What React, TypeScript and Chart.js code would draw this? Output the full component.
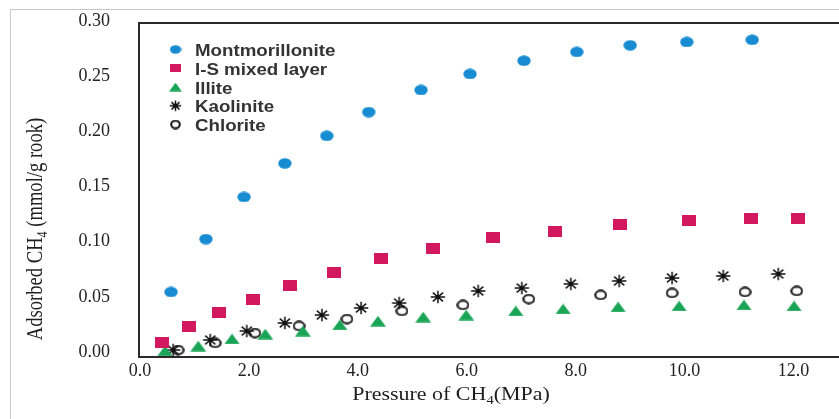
import React, { useEffect, useRef } from "react";
import { Chart, registerables } from "chart.js";

Chart.register(...registerables);

// ---- Data ----
const seriesNames = ["Montmorillonite", "I-S mixed layer", "Illite", "Kaolinite", "Chlorite"];

const montX = [0.57, 1.21, 1.91, 2.66, 3.43, 4.2, 5.16, 6.06, 7.05, 8.02, 9.0, 10.04, 11.24];
const montY = [0.0544, 0.1024, 0.1405, 0.171, 0.196, 0.2175, 0.2375, 0.252, 0.264, 0.272, 0.278, 0.281, 0.283];

const isX = [0.4, 0.9, 1.45, 2.07, 2.75, 3.56, 4.43, 5.38, 6.48, 7.62, 8.81, 10.08, 11.22, 12.08];
const isY = [0.009, 0.0227, 0.0354, 0.048, 0.0607, 0.0725, 0.0843, 0.0934, 0.1034, 0.1088, 0.116, 0.1188, 0.1206, 0.1206];

const illiteX = [0.46, 1.07, 1.69, 2.3, 2.99, 3.67, 4.37, 5.2, 5.99, 6.9, 7.77, 8.78, 9.9, 11.09, 12.01];
const illiteY = [0.001, 0.0054, 0.0118, 0.0163, 0.019, 0.0245, 0.028, 0.0317, 0.0335, 0.0372, 0.039, 0.0408, 0.0417, 0.0426, 0.0417];

const kaolX = [0.61, 1.29, 1.96, 2.66, 3.34, 4.06, 4.76, 5.47, 6.21, 7.01, 7.91, 8.8, 9.77, 10.71, 11.72];
const kaolY = [0.0018, 0.0109, 0.019, 0.0263, 0.0335, 0.0399, 0.0444, 0.0499, 0.0553, 0.058, 0.0617, 0.0644, 0.0671, 0.0689, 0.0707];

const chlorX = [0.7, 1.38, 2.11, 2.92, 3.8, 4.81, 5.93, 7.14, 8.46, 9.77, 11.11, 12.06];
const chlorY = [0.0018, 0.0082, 0.0172, 0.0236, 0.0299, 0.0372, 0.0426, 0.048, 0.0517, 0.0535, 0.0544, 0.0553];

const xTicks = [0, 2, 4, 6, 8, 10, 12];
const yTicks = [0, 0.05, 0.1, 0.15, 0.2, 0.25, 0.3];

const xTitle = ["Pressure of CH", "4", "(MPa)"];
const yTitle = ["Adsorbed CH", "4", " (mmol/g rook)"];

const colors = ["#188cd2", "#d2195f", "#19a555", "#111111", "#111111"];

const W = 839;
const H = 419;

// axis calibration (pixel of value 0 and pixels per unit)
const X_ZERO_PX = 140;
const X_PX_PER_UNIT = 54.46;
const Y_ZERO_PX = 352;
const Y_PX_PER_UNIT = 1103.3;

type Kind = "ellipse" | "rect" | "triangle" | "asterisk" | "ring";

function makeMarker(kind: Kind, w: number, h: number, color: string): HTMLCanvasElement {
  const c = document.createElement("canvas");
  c.width = w;
  c.height = h;
  const ctx = c.getContext("2d") as CanvasRenderingContext2D;
  const cx = w / 2;
  const cy = h / 2;
  ctx.fillStyle = color;
  ctx.strokeStyle = color;
  if (kind === "ellipse") {
    ctx.beginPath();
    ctx.ellipse(cx, cy, w / 2 - 0.3, h / 2 - 0.3, 0, 0, Math.PI * 2);
    ctx.fill();
  } else if (kind === "rect") {
    ctx.fillRect(0, 0, w, h);
  } else if (kind === "triangle") {
    ctx.beginPath();
    ctx.moveTo(cx, 0.2);
    ctx.lineTo(w - 0.2, h - 0.2);
    ctx.lineTo(0.2, h - 0.2);
    ctx.closePath();
    ctx.fill();
  } else if (kind === "asterisk") {
    const rx = w / 2 - 0.8;
    const ry = h / 2 - 0.8;
    ctx.lineWidth = 1.5;
    ctx.beginPath();
    ctx.moveTo(cx - rx, cy);
    ctx.lineTo(cx + rx, cy);
    ctx.moveTo(cx, cy - ry);
    ctx.lineTo(cx, cy + ry);
    const d = Math.SQRT1_2;
    ctx.moveTo(cx - rx * d, cy - ry * d);
    ctx.lineTo(cx + rx * d, cy + ry * d);
    ctx.moveTo(cx - rx * d, cy + ry * d);
    ctx.lineTo(cx + rx * d, cy - ry * d);
    ctx.stroke();
    ctx.beginPath();
    ctx.arc(cx, cy, 2, 0, Math.PI * 2);
    ctx.fill();
  } else {
    ctx.lineWidth = 2;
    ctx.beginPath();
    ctx.ellipse(cx, cy, w / 2 - 1.2, h / 2 - 1.2, 0, 0, Math.PI * 2);
    ctx.stroke();
  }
  return c;
}

function drawSubText(
  ctx: CanvasRenderingContext2D,
  parts: string[],
  size: number,
  family: string
) {
  const big = `${size}px ${family}`;
  const small = `${Math.round(size * 0.66)}px ${family}`;
  ctx.font = big;
  const w1 = ctx.measureText(parts[0]).width;
  const w3 = ctx.measureText(parts[2]).width;
  ctx.font = small;
  const w2 = ctx.measureText(parts[1]).width;
  const total = w1 + w2 + w3;
  let x = -total / 2;
  ctx.textAlign = "left";
  ctx.textBaseline = "alphabetic";
  ctx.font = big;
  ctx.fillText(parts[0], x, 0);
  x += w1;
  ctx.font = small;
  ctx.fillText(parts[1], x, size * 0.22);
  x += w2;
  ctx.font = big;
  ctx.fillText(parts[2], x, 0);
}

export default function App() {
  const ref = useRef<HTMLCanvasElement | null>(null);

  useEffect(() => {
    document.body.style.margin = "0";
    const canvas = ref.current;
    if (!canvas) return;

    const kinds: Kind[] = ["ellipse", "rect", "triangle", "asterisk", "ring"];
    const dataSizes = [
      [14, 11],
      [14, 11],
      [16, 11],
      [16, 14],
      [13, 11],
    ];
    const legendSizes = [
      [12, 9],
      [11, 8],
      [13, 9],
      [13, 12],
      [11, 10],
    ];
    const dataMarkers = kinds.map((k, i) => makeMarker(k, dataSizes[i][0], dataSizes[i][1], colors[i]));
    const legendMarkers = kinds.map((k, i) => makeMarker(k, legendSizes[i][0], legendSizes[i][1], colors[i]));

    const xs = [montX, isX, illiteX, kaolX, chlorX];
    const ys = [montY, isY, illiteY, kaolY, chlorY];

    const datasets = seriesNames.map((name, i) => ({
      label: name,
      data: xs[i].map((x, j) => ({ x, y: ys[i][j] })),
      pointStyle: dataMarkers[i],
      pointRadius: 6,
      pointHoverRadius: 6,
      backgroundColor: colors[i],
      borderColor: colors[i],
      showLine: false,
      clip: false as any,
    }));

    const serif = '"Liberation Serif", "Times New Roman", serif';

    const decor = {
      id: "decor",
      afterLayout(chart: any) {
        const a = chart.chartArea;
        const sx = chart.scales.x;
        const sy = chart.scales.y;
        sx.min = (a.left - X_ZERO_PX) / X_PX_PER_UNIT;
        sx.max = (a.right - X_ZERO_PX) / X_PX_PER_UNIT;
        sx.configure();
        sy.min = (Y_ZERO_PX - a.bottom) / Y_PX_PER_UNIT;
        sy.max = (Y_ZERO_PX - a.top) / Y_PX_PER_UNIT;
        sy.configure();
      },
      beforeDraw(chart: any) {
        const ctx: CanvasRenderingContext2D = chart.ctx;
        ctx.save();
        ctx.fillStyle = "#ffffff";
        ctx.fillRect(0, 0, W, H);
        ctx.strokeStyle = "#c6c6c6";
        ctx.lineWidth = 1;
        ctx.beginPath();
        ctx.moveTo(10.5, H);
        ctx.lineTo(10.5, 9.5);
        ctx.lineTo(W, 9.5);
        ctx.stroke();
        ctx.restore();
      },
      beforeDatasetsDraw(chart: any) {
        const ctx: CanvasRenderingContext2D = chart.ctx;
        const a = chart.chartArea;
        ctx.save();
        ctx.strokeStyle = "#2a2a2a";
        ctx.lineWidth = 2;
        ctx.beginPath();
        ctx.moveTo(a.left, 23);
        ctx.lineTo(W, 23);
        ctx.moveTo(a.left, 22);
        ctx.lineTo(a.left, a.bottom);
        ctx.moveTo(a.left - 1, a.bottom);
        ctx.lineTo(W, a.bottom);
        ctx.stroke();
        ctx.restore();
      },
      afterDraw(chart: any) {
        const ctx: CanvasRenderingContext2D = chart.ctx;
        ctx.save();
        ctx.fillStyle = "#1e1e1e";
        // x title
        ctx.save();
        ctx.translate(451, 400);
        ctx.scale(1.22, 1);
        drawSubText(ctx, xTitle, 18, serif);
        ctx.restore();
        // y title
        ctx.save();
        ctx.translate(42, 229);
        ctx.rotate(-Math.PI / 2);
        ctx.scale(1, 1.2);
        drawSubText(ctx, yTitle, 18.6, serif);
        ctx.restore();
        // legend
        ctx.fillStyle = "#333333";
        ctx.font = 'bold 16px "Liberation Sans", Arial, sans-serif';
        ctx.textAlign = "left";
        ctx.textBaseline = "alphabetic";
        seriesNames.forEach((name, i) => {
          const base = 56 + i * 18.75;
          const my = base - 6.5;
          const m = legendMarkers[i];
          ctx.drawImage(m, 175.5 - m.width / 2, my - m.height / 2);
          ctx.save();
          ctx.translate(195, base);
          ctx.scale(1.17, 1);
          ctx.fillText(name, 0, 0);
          ctx.restore();
        });
        ctx.restore();
      },
    };

    const chart = new Chart(canvas, {
      type: "scatter",
      data: { datasets: datasets as any },
      options: {
        responsive: false,
        animation: false,
        devicePixelRatio: 1,
        layout: { padding: { top: 21, right: 0, bottom: 0, left: 0 } },
        plugins: {
          legend: { display: false },
          tooltip: { enabled: false },
        },
        scales: {
          x: {
            type: "linear",
            min: -0.018,
            max: 12.835,
            grid: { display: false, drawTicks: false },
            border: { display: false },
            afterFit: (s: any) => {
              s.height = 62;
              s.paddingLeft = 0;
              s.paddingRight = 0;
              s.paddingTop = 0;
              s.paddingBottom = 0;
            },
            afterBuildTicks: (s: any) => {
              s.ticks = xTicks.map((v) => ({ value: v }));
            },
            ticks: {
              padding: 3,
              color: "#222222",
              autoSkip: false,
              maxRotation: 0,
              font: { family: serif, size: 18 },
              callback: (v: any) => Number(v).toFixed(1),
            },
          },
          y: {
            type: "linear",
            min: -0.0045,
            max: 0.3,
            grid: { display: false, drawTicks: false },
            border: { display: false },
            afterFit: (s: any) => {
              s.width = 139;
              s.paddingTop = 0;
              s.paddingBottom = 0;
              s.paddingLeft = 0;
              s.paddingRight = 0;
            },
            afterBuildTicks: (s: any) => {
              s.ticks = yTicks.map((v) => ({ value: v }));
            },
            ticks: {
              padding: 29,
              color: "#222222",
              autoSkip: false,
              font: { family: serif, size: 18 },
              callback: (v: any) => Number(v).toFixed(2),
            },
          },
        },
      } as any,
      plugins: [decor],
    });

    return () => {
      chart.destroy();
    };
  }, []);

  return (
    <div style={{ width: W, height: H, position: "relative" }}>
      <canvas ref={ref} width={W} height={H} style={{ display: "block", width: W, height: H }} />
    </div>
  );
}
